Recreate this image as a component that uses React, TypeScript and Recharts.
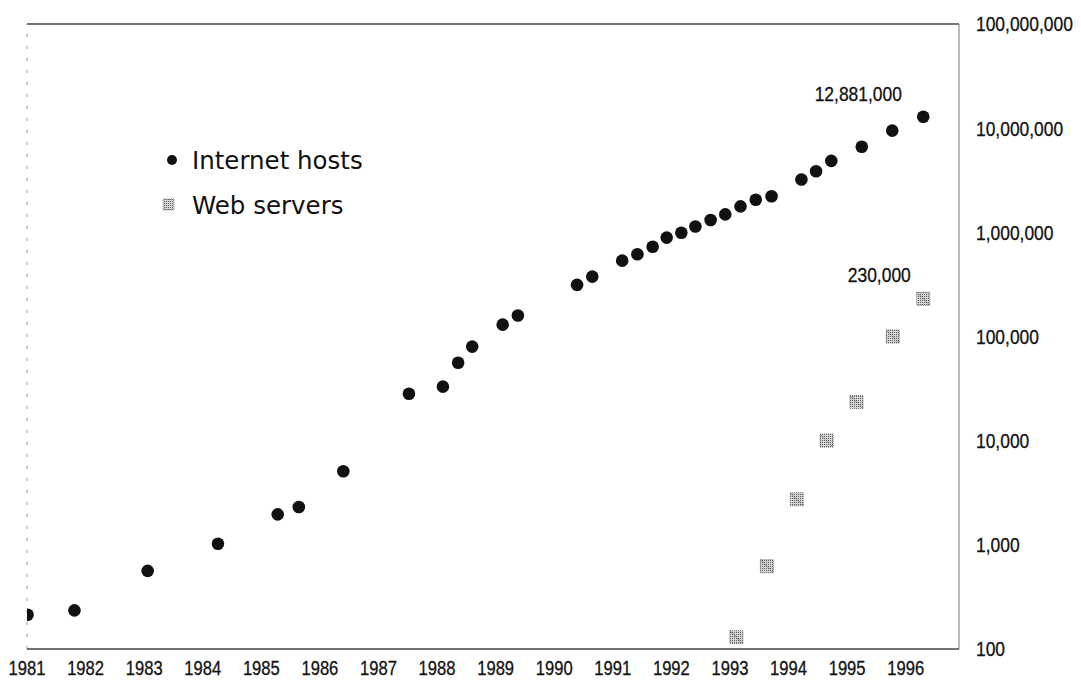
import React from "react";
import {
  ScatterChart,
  Scatter,
  XAxis,
  YAxis,
  Legend,
  ReferenceLine,
  ReferenceDot,
} from "recharts";

// Internet hosts: survey dates (decimal years) and host counts
const hostYears = [
  1981.01, 1981.81, 1983.06, 1984.26, 1985.28, 1985.64, 1986.4, 1987.52,
  1988.1, 1988.36, 1988.6, 1989.12, 1989.38, 1990.39, 1990.65, 1991.16,
  1991.42, 1991.68, 1991.92, 1992.17, 1992.41, 1992.67, 1992.92, 1993.18,
  1993.44, 1993.71, 1994.22, 1994.47, 1994.73, 1995.25, 1995.77, 1996.3,
];
const hostCounts = [
  213, 235, 562, 1024, 1961, 2308, 5089, 28174, 33000, 56000, 80000, 130000,
  159000, 313000, 376000, 535000, 617000, 727000, 890000, 992000, 1136000,
  1313000, 1486000, 1776000, 2056000, 2217000, 3212000, 3864000, 4852000,
  6642000, 9472000, 12881000,
];

// Web servers
const webYears = [1993.11, 1993.63, 1994.14, 1994.65, 1995.16, 1995.78, 1996.3];
const webCounts = [130, 623, 2738, 10022, 23500, 100000, 230000];

const yearTicks = [
  1981, 1982, 1983, 1984, 1985, 1986, 1987, 1988, 1989, 1990, 1991, 1992, 1993,
  1994, 1995, 1996,
];
const countTicks = [100, 1000, 10000, 100000, 1000000, 10000000, 100000000];

const seriesNames = ["Internet hosts", "Web servers"];

const hostData = hostYears.map((year, i) => ({ year, count: hostCounts[i] }));
const webData = webYears.map((year, i) => ({ year, count: webCounts[i] }));

// Helvetica-metric face, squeezed horizontally for a condensed look
const SANS = "'Liberation Sans', Arial, sans-serif";
const LEGEND_FONT = "'DejaVu Sans', 'Liberation Sans', sans-serif";

const fmt = (v: number) => v.toLocaleString("en-US");

const CondensedText = ({
  x,
  y,
  text,
  anchor,
  dy,
  size,
  squeeze,
}: {
  x: number;
  y: number;
  text: string;
  anchor: "start" | "middle" | "end";
  dy: string;
  size: number;
  squeeze: number;
}) => (
  <g transform={`translate(${x},${y})`}>
    <text
      transform={`scale(${squeeze},1)`}
      textAnchor={anchor}
      dy={dy}
      fontFamily={SANS}
      fontSize={size}
      fill="#111"
      stroke="#111"
      strokeWidth={0.3}
    >
      {text}
    </text>
  </g>
);

const YearTick = (props: any) => (
  <CondensedText
    x={props.x}
    y={props.y}
    text={String(props.payload.value)}
    anchor="middle"
    dy="0.71em"
    size={21}
    squeeze={0.79}
  />
);

const CountTick = (props: any) => (
  <CondensedText
    x={props.x}
    y={props.y}
    text={fmt(props.payload.value)}
    anchor="start"
    dy="0.355em"
    size={21}
    squeeze={0.83}
  />
);

const HostDot = (props: any) => (
  <circle cx={props.cx} cy={props.cy} r={6.3} fill="#111" />
);

const StippleDefs = ({ id }: { id: string }) => (
  <defs>
    <pattern id={id} width="2" height="2" patternUnits="userSpaceOnUse">
      <rect width="2" height="2" fill="#d6d6d6" />
      <rect width="1" height="1" fill="#5e5e5e" />
    </pattern>
  </defs>
);

const WebSquare = (props: any) => {
  const { cx, cy, index } = props;
  const s = 13;
  const id = `stipple-${index}`;
  return (
    <g>
      <StippleDefs id={id} />
      <rect
        x={cx - s / 2}
        y={cy - s / 2}
        width={s}
        height={s}
        fill={`url(#${id})`}
        stroke="#6f6f6f"
        strokeWidth={1}
        strokeDasharray="1 1"
      />
      <line
        x1={cx - s / 2}
        y1={cy - s / 2}
        x2={cx + s / 2}
        y2={cy + s / 2}
        stroke="#555"
        strokeWidth={1}
        strokeDasharray="1 1"
      />
    </g>
  );
};

const LegendBox = () => (
  <svg width={240} height={80}>
    <StippleDefs id="stipple-legend" />
    <circle cx={12} cy={19} r={5} fill="#111" />
    <text x={32} y={28} fontFamily={LEGEND_FONT} fontSize={24.5} fill="#111">
      {seriesNames[0]}
    </text>
    <rect
      x={3}
      y={58}
      width={11}
      height={11}
      fill="url(#stipple-legend)"
      stroke="#888"
      strokeDasharray="1 1"
    />
    <text x={32} y={73} fontFamily={LEGEND_FONT} fontSize={24.5} fill="#111">
      {seriesNames[1]}
    </text>
  </svg>
);

const makeCallout = (dx: number, dy: number, value: number) => (props: any) => {
  const vb = props.viewBox || {};
  const cx = (vb.x ?? 0) + (vb.width ?? 0) / 2;
  const cy = (vb.y ?? 0) + (vb.height ?? 0) / 2;
  return (
    <CondensedText
      x={cx + dx}
      y={cy + dy}
      text={fmt(value)}
      anchor="middle"
      dy="0"
      size={21}
      squeeze={0.83}
    />
  );
};

const lastHost = hostData[hostData.length - 1];
const lastWeb = webData[webData.length - 1];

export default function App() {
  return (
    <div style={{ position: "absolute", left: 0, top: 0, background: "#fff" }}>
      <ScatterChart
        width={1081}
        height={687}
        margin={{ top: 24, right: 0, bottom: 0, left: 27 }}
      >
        <XAxis
          type="number"
          dataKey="year"
          domain={[1981, 1996.91]}
          ticks={yearTicks}
          allowDataOverflow
          height={38}
          tickLine={false}
          tickSize={4}
          tickMargin={7}
          axisLine={{ stroke: "#444", strokeWidth: 1.5 }}
          tick={YearTick}
          interval={0}
        />
        <YAxis
          type="number"
          dataKey="count"
          orientation="right"
          scale="log"
          domain={[100, 100000000]}
          ticks={countTicks}
          allowDataOverflow
          width={122}
          tickLine={false}
          tickSize={8}
          tickMargin={9}
          axisLine={{ stroke: "#777", strokeWidth: 1 }}
          tick={CountTick}
          interval={0}
        />
        <ReferenceLine y={100000000} stroke="#444" strokeWidth={1.5} />
        <ReferenceLine x={1981} stroke="#9a9a9a" strokeWidth={1} strokeDasharray="3 9" />
        <Scatter
          name={seriesNames[0]}
          data={hostData}
          shape={HostDot}
          isAnimationActive={false}
        />
        <Scatter
          name={seriesNames[1]}
          data={webData}
          shape={WebSquare}
          isAnimationActive={false}
        />
        <ReferenceDot
          x={lastHost.year}
          y={lastHost.count}
          r={1}
          fill="none"
          stroke="none"
          label={makeCallout(-65, -16, lastHost.count)}
        />
        <ReferenceDot
          x={lastWeb.year}
          y={lastWeb.count}
          r={1}
          fill="none"
          stroke="none"
          label={makeCallout(-44, -17, lastWeb.count)}
        />
        <Legend
          layout="vertical"
          align="center"
          verticalAlign="middle"
          content={LegendBox}
          wrapperStyle={{ left: 160, top: 141, width: 240, height: 80 }}
        />
      </ScatterChart>
    </div>
  );
}
